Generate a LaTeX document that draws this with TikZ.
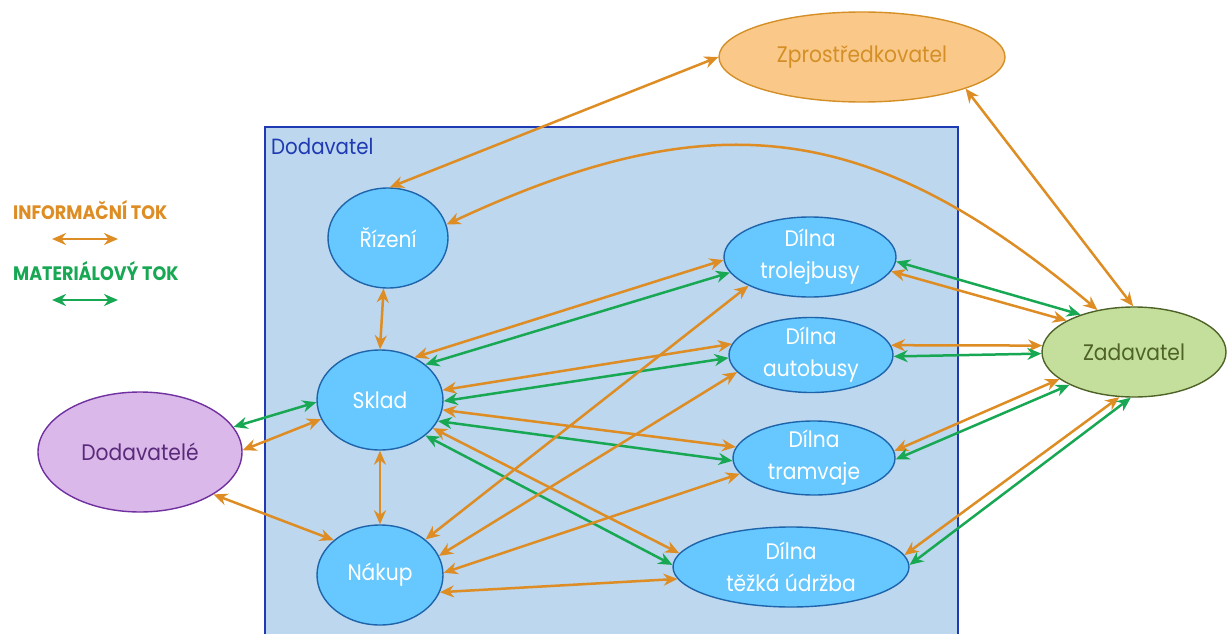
\documentclass[tikz,border=0pt]{standalone}
\usepackage{fontspec}
\setmainfont[FakeStretch=0.9]{Poppins}
\usetikzlibrary{arrows.meta,shapes.geometric,backgrounds}

\definecolor{infoc}{RGB}{221,141,36}
\definecolor{matc}{RGB}{24,168,84}
\definecolor{panelfill}{RGB}{189,215,238}
\definecolor{panelline}{RGB}{31,58,178}
\definecolor{wsfill}{RGB}{102,200,255}
\definecolor{wsline}{RGB}{30,100,170}
\definecolor{zpfill}{RGB}{250,201,138}
\definecolor{zpline}{RGB}{212,143,38}
\definecolor{zafill}{RGB}{196,223,155}
\definecolor{zaline}{RGB}{79,98,40}
\definecolor{dvfill}{RGB}{218,184,234}
\definecolor{dvline}{RGB}{112,48,160}
\definecolor{dvtext}{RGB}{90,42,122}

\tikzset{
  ellnode/.style={ellipse, inner sep=0pt, inner ysep=-8pt, line width=1.4pt, align=center,
    font=\fontsize{22.5}{32}\selectfont},
  ws/.style={ellnode, fill=wsfill, draw=wsline, text=white},
  inf/.style={draw=infoc, line width=2.5pt,
    arrows={Stealth[length=14pt,width=12pt,inset=4.5pt]-Stealth[length=14pt,width=12pt,inset=4.5pt]}},
  mtl/.style={inf, draw=matc},
  legendtxt/.style={anchor=base west, inner sep=0pt, font=\fontsize{19.5}{21}\selectfont\bfseries}
}

\begin{document}
\begin{tikzpicture}[x=1pt,y=-1pt]
\useasboundingbox (0,0) rectangle (1232,634);

% supplier organisation panel
\begin{scope}[on background layer]
  \fill[panelfill] (265,127) rectangle (958,640);
  \draw[panelline, line width=1.6pt] (265,640) -- (265,127) -- (958,127) -- (958,640);
\end{scope}
\node[anchor=base west, inner sep=0pt, text=panelline, font=\fontsize{22}{26}\selectfont] (dtitle) at (271,154) {Dodavatel};

% legend
\node[legendtxt, text=infoc] (linf) at (13,219) {INFORMAČNÍ TOK};
\node[legendtxt, text=matc] (lmat) at (13,280) {MATERIÁLOVÝ TOK};
\coordinate (li1) at (52,239);
\coordinate (li2) at (118,239);
\coordinate (lm1) at (52,300);
\coordinate (lm2) at (118,300);
\draw[inf] (li1) -- (li2);
\draw[mtl] (lm1) -- (lm2);

% nodes
\node[ellnode, fill=zpfill, draw=zpline, text=zpline, minimum width=286pt, minimum height=90pt] (zp) at (862,57) {Zprostředkovatel};
\node[ellnode, fill=zafill, draw=zaline, text=zaline, minimum width=184pt, minimum height=90pt] (za) at (1134,352) {Zadavatel};
\node[ellnode, fill=dvfill, draw=dvline, text=dvtext, minimum width=204pt, minimum height=120pt] (dv) at (140,452) {Dodavatelé};

\node[ws, minimum width=120pt, minimum height=100pt] (ri) at (388,238) {Řízení};
\node[ws, minimum width=126pt, minimum height=100pt] (sk) at (380,400) {Sklad};
\node[ws, minimum width=126pt, minimum height=100pt] (na) at (380,575) {Nákup};
\node[ws, minimum width=172pt, minimum height=80pt] (dt) at (810,257) {Dílna\\trolejbusy};
\node[ws, minimum width=164pt, minimum height=75pt] (da) at (811,355) {Dílna\\autobusy};
\node[ws, minimum width=162pt, minimum height=74pt] (dm) at (814,458) {Dílna\\tramvaje};
\node[ws, minimum width=236pt, minimum height=80pt] (du) at (791,567) {Dílna\\těžká údržba};

% management links
\draw[inf] (zp.180) -- (ri.88);
\draw[inf] (zp.-17) -- (za.91);
\draw[inf] (ri.13) to[out=25,in=140,looseness=1.15] (za.131);
\draw[inf] (ri.265) -- (sk.90);
\draw[inf] (sk.270) -- (na.90);

% warehouse to workshops
\draw[inf] (sk.51) -- (dt.182);
\draw[mtl] (sk.38) -- (dt.191);
\draw[inf] (sk.9) -- (da.172);
\draw[mtl] (sk.-1) -- (da.182);
\draw[inf] (sk.-9) -- (dm.172);
\draw[mtl] (sk.-20) -- (dm.182);
\draw[inf] (sk.-28) -- (du.173);
\draw[mtl] (sk.-38) -- (du.179);

% external suppliers
\draw[mtl] (dv.15) -- (sk.182);
\draw[inf] (dv.1) -- (sk.198);
\draw[inf] (dv.-30) -- (na.143);

% purchasing to workshops
\draw[inf] (na.38) -- (dt.205);
\draw[inf] (na.18) -- (da.193);
\draw[inf] (na.2) -- (dm.192);
\draw[inf] (na.-16) -- (du.186);

% workshops to the contracting authority
\draw[mtl] (dt.-3) -- (za.145);
\draw[inf] (dt.-10) -- (za.155);
\draw[inf] (da.7) -- (za.176);
\draw[mtl] (da.-1) -- (za.181);
\draw[inf] (dm.5) -- (za.200);
\draw[mtl] (dm.-1) -- (za.207);
\draw[inf] (du.6) -- (za.252);
\draw[mtl] (du.1) -- (za.266);
\end{tikzpicture}
\end{document}
